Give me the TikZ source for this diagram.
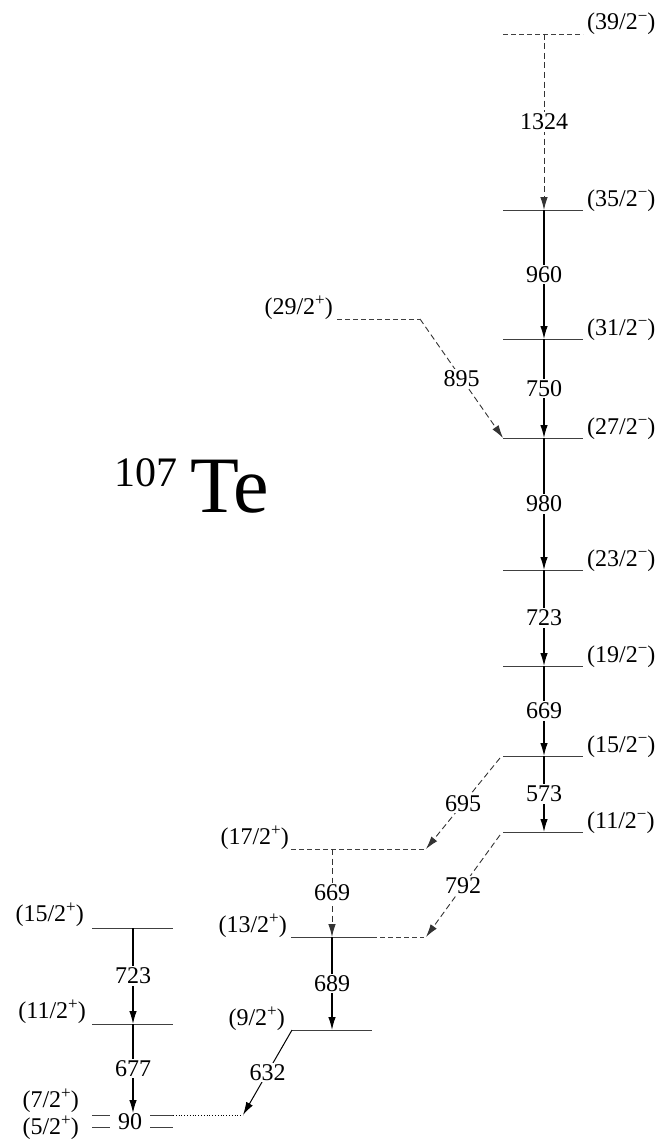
\documentclass[tikz,border=0pt]{standalone}
\usepackage{fontspec}
\setmainfont{Liberation Serif}
\usetikzlibrary{arrows.meta}
\newcommand\supx[1]{\raisebox{0.36em}{\fontsize{17}{17}\selectfont #1}}
\newcommand\jm[1]{(#1/2\supx{\char"2212})}
\newcommand\jp[1]{(#1/2\supx{+})}
\begin{document}
\begin{tikzpicture}[x=1pt,y=-1pt,
  lev/.style={draw=black!75, line width=0.8pt},
  dlev/.style={lev, dash pattern=on 5pt off 3pt},
  tip/.style={-{Latex[length=13pt,width=7.5pt]}},
  gam/.style={draw=black, line width=1.2pt, tip},
  dgam/.style={draw=black!80, line width=0.9pt, dash pattern=on 6pt off 3.5pt, tip},
  elab/.style={fill=white, inner sep=1.5pt, font=\fontsize{24}{24}\selectfont},
  spin/.style={inner sep=0pt, font=\fontsize{24}{24}\selectfont}]
\useasboundingbox (0,0) rectangle (662,1140);
% right column
\draw[dlev] (503,34) coordinate (L39a) -- (583,34) coordinate (L39b);
\coordinate (L39m) at (544,34);
\node[spin,anchor=base west] (S39) at (587,30) {\jm{39}};
\foreach \n/\y in {35/210,31/339,27/438,23/570,19/666,15/756,11/832} {
  \draw[lev] (503,\y) coordinate (L\n a) -- (583,\y) coordinate (L\n b);
  \coordinate (L\n m) at (544,\y);
  \node[spin,anchor=base west] (S\n) at (587,\y-4) {\jm{\n}};
}
\draw[dgam] (L39m) -- node[elab]{1324} (L35m);
\draw[gam] (L35m) -- node[elab]{960} (L31m);
\draw[gam] (L31m) -- node[elab]{750} (L27m);
\draw[gam] (L27m) -- node[elab]{980} (L23m);
\draw[gam] (L23m) -- node[elab]{723} (L19m);
\draw[gam] (L19m) -- node[elab]{669} (L15m);
\draw[gam] (L15m) -- node[elab]{573} (L11m);
% 29/2+
\draw[dlev] (337,319) coordinate (P29a) -- (420,319) coordinate (P29b);
\node[spin,anchor=base east] (S29) at (333,314) {\jp{29}};
\draw[dgam] (P29b) -- node[elab]{895} (L27a);
% middle column
\draw[dlev] (291,849) coordinate (P17a) -- (424,849) coordinate (P17b);
\coordinate (P17m) at (332,849);
\node[spin,anchor=base east] (S17) at (289,844) {\jp{17}};
\draw[lev] (291,937) coordinate (P13a) -- (372,937) coordinate (P13c);
\draw[dlev] (P13c) -- (424,937) coordinate (P13b);
\coordinate (P13m) at (332,937);
\node[spin,anchor=base east] (S13) at (287,932) {\jp{13}};
\draw[lev] (292,1030) coordinate (P9a) -- (372,1030) coordinate (P9b);
\coordinate (P9m) at (332,1030);
\node[spin,anchor=base east] (S9) at (285,1025) {\jp{9}};
\draw[dgam] (P17m) -- node[elab]{669} (P13m);
\draw[gam] (P13m) -- node[elab]{689} (P9m);
\draw[dgam] ([xshift=-3pt,yshift=-2pt]L15a) -- node[elab]{695} ([xshift=2pt]P17b);
\draw[dgam] ([xshift=-3pt,yshift=-3pt]L11a) -- node[elab]{792} ([xshift=2pt]P13b);
% left column
\draw[lev] (92,928) coordinate (A15a) -- (173,928) coordinate (A15b);
\coordinate (A15m) at (133,928);
\node[spin,anchor=base east] (T15) at (84,921) {\jp{15}};
\draw[lev] (92,1024) coordinate (A11a) -- (173,1024) coordinate (A11b);
\coordinate (A11m) at (133,1024);
\node[spin,anchor=base east] (T11) at (86,1018) {\jp{11}};
\draw[lev] (92,1115) coordinate (A7a) -- (110,1115);
\draw[lev] (150,1115) -- (173,1115) coordinate (A7b);
\coordinate (A7m) at (133,1113);
\coordinate (A7d) at (243,1115);
\node[spin,anchor=base east] (T7) at (79,1107) {\jp{7}};
\draw[lev] (92,1127) coordinate (A5a) -- (110,1127);
\draw[lev] (150,1127) -- (173,1127) coordinate (A5b);
\node[spin,anchor=base east] (T5) at (79,1134) {\jp{5}};
\node[spin] (g90) at (130,1122) {90};
\draw[black, line width=0.8pt, dotted] (A7b) -- (A7d);
\draw[gam] (A15m) -- node[elab]{723} (A11m);
\draw[gam] (A11m) -- node[elab]{677} (A7m);
\draw[gam, line width=1pt] (P9a) -- node[elab]{632} (A7d);
% title
\node[anchor=base west, inner sep=0pt, font=\fontsize{42}{42}\selectfont] (mass) at (114,486) {107};
\node[anchor=base west, inner sep=0pt, font=\fontsize{80}{80}\selectfont] (te) at (190,512) {Te};
\end{tikzpicture}
\end{document}
